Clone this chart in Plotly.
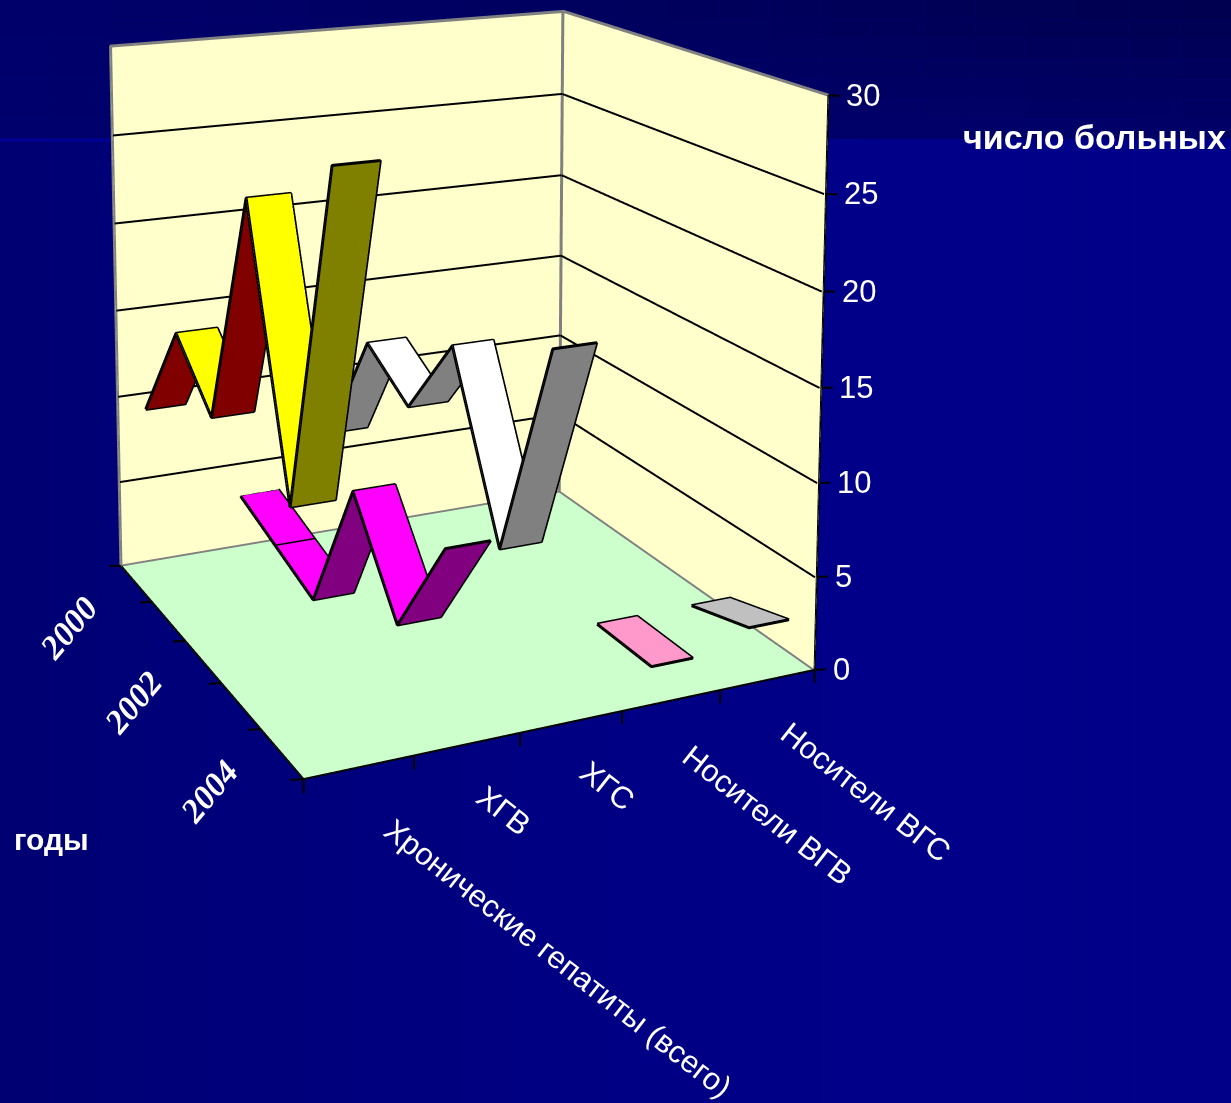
import plotly.graph_objects as go

# Case counts per diagnosis and year
years = [2000, 2001, 2002, 2003, 2004, 2005]
year_labels = [2000, 2002, 2004]
categories = ["Хронические гепатиты (всего)", "ХГВ", "ХГС", "Носители ВГВ", "Носители ВГС"]
chronic_total = [9, 15, 12, 25, 11, 29]
chronic_b = [3, 2, 1, 9, 4, 10]
chronic_c = [6, 13, 11, 16, 7, 19]
carriers_b = [None, None, None, None, 2, 2]
carriers_c = [None, None, None, None, 2, 3]
value_ticks = [0, 5, 10, 15, 20, 25, 30]

series = [chronic_total, chronic_b, chronic_c, carriers_b, carriers_c]
segment_colors = [
    ["#800000", "#FFFF00", "#800000", "#FFFF00", "#808000"],
    ["#FF00FF", "#FF00FF", "#800080", "#FF00FF", "#800080"],
    ["#808080", "#FFFFFF", "#808080", "#FFFFFF", "#808080"],
    [None, None, None, None, "#FF99CC"],
    [None, None, None, None, "#C0C0C0"],
]

WALL = "#FFFFCC"
FLOOR = "#CCFFCC"
EDGE = "#808080"
RIBBON_HALF_WIDTH = 0.21
FLAT = dict(ambient=1, diffuse=0, specular=0, roughness=1, fresnel=0)
# Lines lying on a wall or the floor are lifted slightly off the surface
INSET = 0.02

# The walls lean outwards with height, so the two floor coordinates pick up
# a share of the value axis; the value itself stays on z unchanged.
LEAN = (0.0005, 0.3868, -0.4304, 0.5113)


def place(cat_pos, year_pos, value):
    """Map (category position, year position, value) into scene coordinates."""
    x = cat_pos + LEAN[0] * year_pos + LEAN[1] * value / 6
    y = -year_pos + LEAN[2] * cat_pos + LEAN[3] * value / 6
    return x, y, value


def mesh_quads(quads, colors):
    xs, ys, zs, i, j, k = [], [], [], [], [], []
    for quad in quads:
        n = len(xs)
        for corner in quad:
            px, py, pz = place(*corner)
            xs.append(px)
            ys.append(py)
            zs.append(pz)
        i += [n, n]
        j += [n + 1, n + 2]
        k += [n + 2, n + 3]
    face = [c for c in colors for _ in range(2)]
    return go.Mesh3d(x=xs, y=ys, z=zs, i=i, j=j, k=k, facecolor=face, flatshading=True,
                     lighting=FLAT, hoverinfo="skip", showscale=False)


def polyline(paths, color, width):
    xs, ys, zs = [], [], []
    for path in paths:
        for corner in path:
            px, py, pz = place(*corner)
            xs.append(px)
            ys.append(py)
            zs.append(pz)
        xs.append(None)
        ys.append(None)
        zs.append(None)
    return go.Scatter3d(x=xs, y=ys, z=zs, mode="lines", line=dict(color=color, width=width),
                        hoverinfo="skip", showlegend=False)


n_cat = len(categories)
n_year = len(years) - 1
top = value_ticks[-1]
inner_x = n_cat - INSET

fig = go.Figure()

# Walls and floor of the chart box
fig.add_trace(mesh_quads(
    [
        [(0, 0, 0), (n_cat, 0, 0), (n_cat, 0, top), (0, 0, top)],
        [(n_cat, 0, 0), (n_cat, n_year, 0), (n_cat, n_year, top), (n_cat, 0, top)],
        [(0, 0, 0), (n_cat, 0, 0), (n_cat, n_year, 0), (0, n_year, 0)],
    ],
    [WALL, WALL, FLOOR],
))
fig.add_trace(polyline(
    [[(0, INSET, v), (inner_x, INSET, v), (inner_x, n_year, v)] for v in value_ticks[1:-1]],
    "#000000", 4))
fig.add_trace(polyline(
    [
        [(0, 0, 0), (0, 0, top), (n_cat, 0, top), (n_cat, n_year, top)],
        [(inner_x, INSET, INSET), (inner_x, INSET, top)],
        [(0, INSET, INSET), (inner_x, INSET, INSET), (inner_x, n_year, INSET)],
    ],
    EDGE, 6))

# Axis lines and tick marks
axis_paths = [
    [(0, 0, 0), (0, n_year, 0), (n_cat, n_year, 0), (n_cat, n_year, top)],
]
axis_paths += [[(c, n_year, 0), (c, n_year, -0.7)] for c in range(n_cat + 1)]
axis_paths += [[(0, y, 0), (-0.12, y, 0.1)] for y in range(n_year + 1)]
axis_paths += [[(n_cat, n_year, v), (n_cat + 0.12, n_year, v - 0.1)] for v in value_ticks]
fig.add_trace(polyline(axis_paths, "#000000", 4))

# One ribbon per diagnosis, running from the back wall to the front edge
for cat_index, values in enumerate(series):
    left = cat_index + 0.5 - RIBBON_HALF_WIDTH
    right = cat_index + 0.5 + RIBBON_HALF_WIDTH
    quads, colors = [], []
    for y_index in range(n_year):
        v0, v1 = values[y_index], values[y_index + 1]
        if v0 is None or v1 is None:
            continue
        quads.append([(left, y_index, v0), (right, y_index, v0),
                      (right, y_index + 1, v1), (left, y_index + 1, v1)])
        colors.append(segment_colors[cat_index][y_index])
    fig.add_trace(mesh_quads(quads, colors))
    fig.add_trace(polyline([q + [q[0]] for q in quads], "#000000", 6))

# Tick labels stay attached to their axis positions in the scene
scene_notes = []
SANS = "Arial, Liberation Sans, sans-serif"
SERIF = "Times New Roman, Liberation Serif, serif"
for v in value_ticks:
    px, py, pz = place(n_cat, n_year, v)
    scene_notes.append(dict(x=px, y=py, z=pz, text=str(v), showarrow=False, xanchor="left",
                            xshift=16, font=dict(family=SANS, size=31, color="white")))
label_shift = [(199, -191), (36, -66), (35, -64), (96, -115), (98, -113)]
for c, name in enumerate(categories):
    px, py, pz = place(c + 0.5, n_year, 0)
    dx, dy = label_shift[c]
    scene_notes.append(dict(x=px, y=py, z=pz, text=name, showarrow=False, textangle=38,
                            xshift=dx, yshift=dy, font=dict(family=SANS, size=31, color="white")))
for label in year_labels:
    px, py, pz = place(0, years.index(label), 0)
    scene_notes.append(dict(x=px, y=py, z=pz, text=str(label), showarrow=False,
                            textangle=-50, xshift=-52, yshift=-62,
                            font=dict(family=SERIF, size=34, color="white", weight="bold", style="italic")))

# Slide background: a band across the top and a brighter field below,
# each shading from left to right
shapes = []
cols, rows = 24, 7
for col in range(cols):
    fx = (col + 0.5) / cols
    for row in range(rows):
        fy = (row + 0.5) / rows
        blue = 108 + fx * (78 + 27 * fy - 108)
        shapes.append(dict(type="rect", xref="paper", yref="paper", layer="below",
                           x0=col / cols, x1=(col + 1) / cols,
                           y1=1 - row / rows * 139 / 1103, y0=1 - (row + 1) / rows * 139 / 1103,
                           fillcolor=f"rgb(0,0,{blue:.0f})", line=dict(width=0)))
    blue = 112 + 24 * min(1, fx * 1.5) ** 0.7
    shapes.append(dict(type="rect", xref="paper", yref="paper", layer="below",
                       x0=col / cols, x1=(col + 1) / cols, y1=1 - 139 / 1103, y0=0,
                       fillcolor=f"rgb(0,0,{blue:.0f})", line=dict(width=0)))
shapes.append(dict(type="rect", xref="paper", yref="paper", layer="below",
                   x0=0, x1=0.1, y0=1 - 141.5 / 1103, y1=1 - 138.5 / 1103,
                   fillcolor="#000096", line=dict(width=0)))

fig.update_layout(
    width=1231,
    height=1103,
    margin=dict(l=0, r=0, t=0, b=0),
    paper_bgcolor="#000080",
    showlegend=False,
    shapes=shapes,
    scene=dict(
        domain=dict(x=[0, 1], y=[0, 1]),
        bgcolor="rgba(0,0,0,0)",
        hovermode=False,
        aspectmode="manual",
        aspectratio=dict(x=1.1481 * 3, y=1.0338 * 3, z=1.1784 * 34 / 30),
        camera=dict(
            eye=dict(x=-1.3598, y=-2.5961, z=1.5146),
            center=dict(x=0.2160, y=-0.6338, z=-0.2585),
            up=dict(x=0, y=0, z=1),
        ),
        xaxis=dict(range=[-5, 10], visible=False),
        yaxis=dict(range=[-10, 5], visible=False),
        zaxis=dict(range=[-2, 32], visible=False),
        annotations=scene_notes,
    ),
    annotations=[
        dict(xref="paper", yref="paper", x=1094 / 1231, y=1 - 137 / 1103, xanchor="center", yanchor="middle",
             text="число больных", showarrow=False,
             font=dict(family=SANS, size=34, color="white", weight="bold")),
        dict(xref="paper", yref="paper", x=51 / 1231, y=1 - 839 / 1103, xanchor="center", yanchor="middle",
             text="годы", showarrow=False,
             font=dict(family=SANS, size=30, color="white", weight="bold")),
    ],
)
fig.write_html("out.html", config=dict(displayModeBar=False))
